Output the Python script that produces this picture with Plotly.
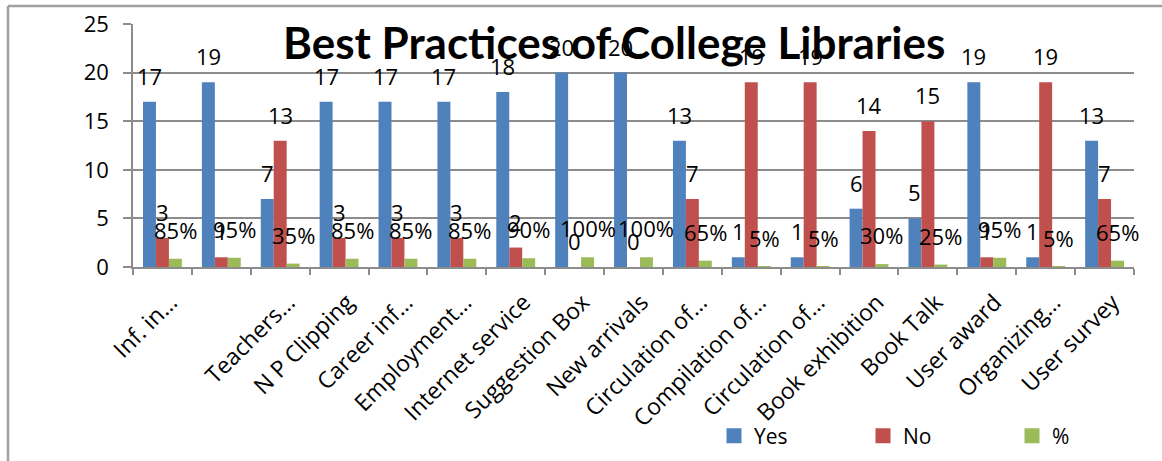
import plotly.graph_objects as go

categories = ["Inf. in…", "", "Teachers…", "N P Clipping", "Career inf…", "Employment…",
              "Internet service", "Suggestion Box", "New arrivals", "Circulation of…",
              "Compilation of…", "Circulation of…", "Book exhibition", "Book Talk",
              "User award", "Organizing…", "User survey"]
yes_vals = [17, 19, 7, 17, 17, 17, 18, 20, 20, 13, 1, 1, 6, 5, 19, 1, 13]
no_vals = [3, 1, 13, 3, 3, 3, 2, 0, 0, 7, 19, 19, 14, 15, 1, 19, 7]
pct_vals = [0.85, 0.95, 0.35, 0.85, 0.85, 0.85, 0.90, 1.00, 1.00, 0.65, 0.05, 0.05,
            0.30, 0.25, 0.95, 0.05, 0.65]
y_ticks = [0, 5, 10, 15, 20, 25]
title_text = "Best Practices of College Libraries"

W, H = 1162, 461
# plot area in page pixels
PX0, PX1, PY0, PY1 = 133, 1134, 24, 267
L, R, T, B = PX0, W - PX1, PY0, H - PY1
FONT = "Open Sans"
GRID = "#8c8c8c"

pw = W - L - R
ph = H - T - B


def px(xp):
    return (xp - PX0) / pw


def py(yp):
    return 1 - (yp - PY0) / ph


xs = list(range(len(categories)))
series = [
    ("Yes", yes_vals, "#4F81BD", lambda v: f"{v}"),
    ("No", no_vals, "#C0504D", lambda v: f"{v}"),
    ("%", pct_vals, "#9BBB59", lambda v: f"{round(v*100)}%"),
]

fig = go.Figure()
bargap = 0.34
bw = (1 - bargap) / 3
annotations = []
for k, (name, vals, col, fmt) in enumerate(series):
    fig.add_trace(go.Bar(x=xs, y=vals, name=name, showlegend=False,
                         marker=dict(color=col, line=dict(width=0))))
    off = (k - 1) * bw
    for i, v in enumerate(vals):
        annotations.append(dict(x=i + off, y=v, xref="x", yref="y", text=fmt(v),
                                showarrow=False, yanchor="bottom", yshift=9 if k < 2 else 12,
                                font=dict(family=FONT, size=22, color="black")))
# legend entries (square swatches)
for name, vals, col, fmt in series:
    fig.add_trace(go.Scatter(x=[None], y=[None], mode="markers", name=name,
                             marker=dict(symbol="square", size=15, color=col)))

annotations.append(dict(x=px(614), y=py(42),
                        xref="paper", yref="paper", text=f"<b>{title_text}</b>",
                        showarrow=False, xanchor="center", yanchor="middle",
                        font=dict(family="Lato", size=44, color="black")))

bx0 = px(8)
by1 = py(6)
fig.update_layout(
    width=W, height=H,
    margin=dict(l=L, r=R, t=T, b=B, autoexpand=False),
    paper_bgcolor="white", plot_bgcolor="white",
    barmode="group", bargap=bargap, bargroupgap=0,
    font=dict(family=FONT, size=19, color="black"),
    annotations=annotations,
    showlegend=True,
    legend=dict(orientation="h", x=px(714), xanchor="left",
                y=py(436), yanchor="middle",
                font=dict(family=FONT, size=21), entrywidth=104,
                bgcolor="rgba(0,0,0,0)", itemclick=False, itemdoubleclick=False),
    shapes=[
        dict(type="line", xref="paper", yref="paper", x0=bx0, x1=bx0, y0=by1, y1=-1.2,
             line=dict(color="#a0a0a0", width=2.5)),
        dict(type="line", xref="paper", yref="paper", x0=bx0, x1=1.2, y0=by1, y1=by1,
             line=dict(color="#a0a0a0", width=2.5)),
    ],
    xaxis=dict(range=[-0.5, len(categories) - 0.5], tickmode="array", tickvals=xs,
               ticktext=categories, tickangle=-45, ticks="", showline=True,
               linecolor=GRID, linewidth=1.5, showgrid=False, zeroline=False,
               automargin=False, tickfont=dict(family=FONT, size=23),
               ticklabelstandoff=11, ticklabelshift=8,
               minor=dict(ticks="outside", tickmode="linear", tick0=0.5, dtick=1,
                          ticklen=6, tickcolor=GRID, tickwidth=1.5, showgrid=False)),
    yaxis=dict(range=[0, 25.001], tickvals=y_ticks, showgrid=True, gridcolor=GRID,
               gridwidth=1.5, showline=True, linecolor=GRID, linewidth=1.5,
               ticks="outside", ticklen=8, tickcolor=GRID, tickwidth=1.5,
               ticklabelstandoff=10, automargin=False,
               zeroline=False, tickfont=dict(family=FONT, size=22)),
)

fig.write_html("out.html", config={"displayModeBar": False},
               post_script="document.body.style.margin='0';document.body.style.overflow='hidden';")
